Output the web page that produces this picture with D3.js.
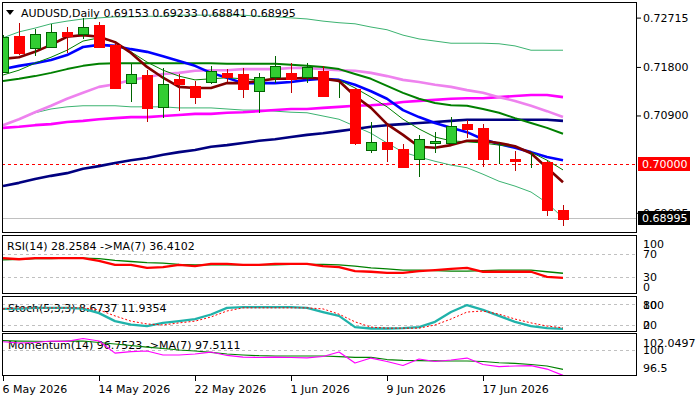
<!DOCTYPE html>
<html>
<head>
<meta charset="utf-8">
<script src="https://cdn.jsdelivr.net/npm/d3@7"></script>
<style>
  body { margin: 0; background: #fff; }
</style>
</head>
<body>
<div id="chart"></div>
<script>
// Daily bars (6 May - 24 Jun 2026)
const dates = [
  "2026-05-06","2026-05-07","2026-05-08","2026-05-11","2026-05-12","2026-05-13","2026-05-14","2026-05-15",
  "2026-05-18","2026-05-19","2026-05-20","2026-05-21","2026-05-22","2026-05-25","2026-05-26","2026-05-27",
  "2026-05-28","2026-05-29","2026-06-01","2026-06-02","2026-06-03","2026-06-04","2026-06-05","2026-06-08",
  "2026-06-09","2026-06-10","2026-06-11","2026-06-12","2026-06-15","2026-06-16","2026-06-17","2026-06-18",
  "2026-06-19","2026-06-22","2026-06-23","2026-06-24"
];
const dateTicks = ["2026-05-06","2026-05-14","2026-05-22","2026-06-01","2026-06-09","2026-06-17"];
const dateTickLabels = ["6 May 2026","14 May 2026","22 May 2026","1 Jun 2026","9 Jun 2026","17 Jun 2026"];

const open  = [0.71706,0.72374,0.72152,0.72170,0.72448,0.72411,0.72578,0.72207,0.71502,0.71651,0.71057,0.71577,0.71447,0.71521,0.71688,0.71669,0.71354,0.71614,0.71688,0.71614,0.71725,0.71298,0.71391,0.70259,0.70408,0.70278,0.70093,0.70389,0.70389,0.70742,0.70668,0.70093,0.70093,0.70000,0.70037,0.69153];
const high  = [0.72393,0.72615,0.72504,0.72597,0.72541,0.72708,0.72634,0.72226,0.71855,0.71743,0.71781,0.71669,0.71539,0.71818,0.71762,0.71781,0.71688,0.72003,0.71873,0.71873,0.71818,0.71502,0.71410,0.70779,0.70723,0.70371,0.70538,0.70593,0.70872,0.70816,0.70742,0.70389,0.70241,0.70204,0.70055,0.69233];
const low   = [0.71688,0.72022,0.72003,0.72152,0.72059,0.72319,0.72152,0.71391,0.71150,0.70779,0.70853,0.70983,0.71113,0.71484,0.71521,0.71224,0.70946,0.71502,0.71317,0.71502,0.71243,0.71224,0.70352,0.70204,0.70037,0.69926,0.69759,0.70204,0.70389,0.70482,0.69944,0.70000,0.69870,0.69926,0.69035,0.68841];
const close = [0.72356,0.72059,0.72411,0.72448,0.72374,0.72541,0.72170,0.71410,0.71669,0.71039,0.71484,0.71484,0.71243,0.71725,0.71614,0.71391,0.71614,0.71818,0.71577,0.71799,0.71261,0.71298,0.70389,0.70408,0.70278,0.69944,0.70464,0.70426,0.70705,0.70649,0.70093,0.70093,0.70055,0.70000,0.69146,0.68995];

// moving averages / bands on the price chart
const maMaroon  = [0.7195,0.7198,0.7208,0.7221,0.7236,0.7239,0.7236,0.7226,0.7206,0.7180,0.7160,0.7143,0.7141,0.7141,0.7150,0.7150,0.7154,0.7158,0.7158,0.7160,0.7158,0.7154,0.7126,0.7104,0.7074,0.7054,0.7032,0.7030,0.7035,0.7043,0.7043,0.7039,0.7033,0.7020,0.6993,0.6966];
const maThin    = [0.7165,0.7174,0.7187,0.7198,0.7211,0.7228,0.7234,0.7226,0.7208,0.7189,0.7174,0.7163,0.7156,0.7158,0.7160,0.7158,0.7156,0.7158,0.7160,0.7160,0.7158,0.7156,0.7141,0.7124,0.7106,0.7083,0.7065,0.7050,0.7043,0.7041,0.7039,0.7035,0.7032,0.7022,0.7007,0.6989];
const maBlue    = [0.7176,0.7182,0.7187,0.7193,0.7202,0.7217,0.7221,0.7219,0.7213,0.7208,0.7200,0.7191,0.7182,0.7169,0.7160,0.7150,0.7150,0.7150,0.7152,0.7156,0.7158,0.7156,0.7147,0.7135,0.7121,0.7100,0.7087,0.7076,0.7067,0.7059,0.7046,0.7037,0.7030,0.7022,0.7013,0.7007];
const maGreen   = [0.7154,0.7158,0.7163,0.7169,0.7176,0.7182,0.7186,0.7187,0.7187,0.7187,0.7187,0.7187,0.7187,0.7187,0.7186,0.7186,0.7186,0.7186,0.7184,0.7182,0.7180,0.7176,0.7167,0.7158,0.7145,0.7132,0.7121,0.7113,0.7109,0.7108,0.7102,0.7095,0.7085,0.7076,0.7067,0.7056];
const maViolet  = [0.7072,0.7083,0.7096,0.7108,0.7121,0.7132,0.7143,0.7148,0.7156,0.7161,0.7167,0.7169,0.7173,0.7174,0.7174,0.7176,0.7176,0.7176,0.7178,0.7178,0.7176,0.7174,0.7173,0.7169,0.7163,0.7156,0.7152,0.7147,0.7143,0.7137,0.7132,0.7124,0.7117,0.7108,0.7098,0.7087];
const maMagenta = [0.7067,0.7069,0.7072,0.7074,0.7078,0.7080,0.7083,0.7085,0.7087,0.7087,0.7089,0.7091,0.7093,0.7093,0.7095,0.7096,0.7098,0.7100,0.7102,0.7102,0.7104,0.7106,0.7108,0.7109,0.7111,0.7115,0.7117,0.7119,0.7121,0.7122,0.7122,0.7124,0.7126,0.7128,0.7128,0.7124];
const maNavy    = [0.6959,0.6965,0.6972,0.6978,0.6983,0.6991,0.6996,0.7002,0.7007,0.7011,0.7017,0.7022,0.7026,0.7032,0.7035,0.7039,0.7043,0.7046,0.7050,0.7054,0.7057,0.7061,0.7065,0.7069,0.7072,0.7074,0.7076,0.7078,0.7080,0.7082,0.7082,0.7082,0.7082,0.7082,0.7082,0.7080];
const bandUpper = [0.7234,0.7245,0.7252,0.7260,0.7265,0.7269,0.7271,0.7273,0.7273,0.7274,0.7274,0.7276,0.7276,0.7276,0.7276,0.7276,0.7274,0.7273,0.7271,0.7269,0.7265,0.7262,0.7260,0.7254,0.7249,0.7239,0.7232,0.7228,0.7224,0.7224,0.7224,0.7223,0.7219,0.7211,0.7211,0.7211];
const bandLower = [0.7072,0.7083,0.7095,0.7102,0.7106,0.7108,0.7108,0.7108,0.7106,0.7106,0.7106,0.7104,0.7104,0.7104,0.7102,0.7100,0.7100,0.7098,0.7096,0.7095,0.7089,0.7083,0.7070,0.7057,0.7039,0.7022,0.7013,0.7005,0.6998,0.6993,0.6981,0.6968,0.6959,0.6948,0.6928,0.6900];

const priceTicks = [0.72715, 0.71800, 0.70900, 0.69095];
const levelPrice = 0.70000;

// indicators
const rsi        = [63,61,63,63,63,63,58,51,51,46,47,51,49,53,53,51,51,53,53,53,49,47,40,39,37,37,40,42,44,46,39,39,39,39,30,28.2584];
const rsiMa      = [60,61,62,62,63,63,62,59,57,55,54,52,51,51,51,51,51,51,52,52,52,51,49,46,44,42,42,41,40,40,41,42,42,42,39,36.4102];
const stochMain  = [66,67,69,69,69,67,54,31,21,17,26,31,37,50,69,71,71,71,71,69,57,46,14,10,10,11,14,29,57,77,63,46,29,17,11,8.6737];
const stochSig   = [66,69,69,69,69,69,63,46,31,23,20,26,31,43,60,69,69,69,69,69,66,51,29,14,11,11,11,20,37,57,60,51,37,26,17,11.9354];
const momentum   = [101.06,100.9,100.96,101.15,101.1,101.47,101.15,99.6,99.8,99.87,99.36,99.36,99.49,99.74,99.3,99.1,99.04,99.1,99.04,99.0,99.17,99.74,98.33,98.97,98.53,98.01,98.85,98.53,98.72,98.97,98.14,97.88,97.95,98.01,97.56,96.7523];
const momentumMa = [101.19,101.15,101.12,101.09,101.15,101.15,100.96,100.77,100.58,100.38,100.19,100.0,99.87,99.7,99.49,99.36,99.27,99.23,99.23,99.23,99.23,99.14,99.06,99.06,98.78,98.68,98.63,98.62,98.59,98.59,98.53,98.37,98.29,98.14,97.95,97.5111];

const W = 700, H = 400;
const left = 2, right = 637;
const font = "'DejaVu Sans', Verdana, sans-serif";

const svg = d3.select("#chart").append("svg")
  .attr("width", W).attr("height", H)
  .style("font-family", font).style("font-size", "11px");

// Panels: [top, bottom]
const panels = {
  main: [3, 233], rsi: [236, 294], stoch: [297, 332], mom: [334, 376]
};

const x = d3.scalePoint().domain(dates).range([3, 563]);
const y = d3.scaleLinear().domain([0.68720, 0.72986]).range([233, 3]);
const yRsi = d3.scaleLinear().domain([0, 100]).range([294, 237]);
const yStoch = d3.scaleLinear().domain([0, 100]).range([332, 297]);
const yMom = d3.scaleLinear().domain([96.67, 102.05]).range([376, 334]);

// clip paths per panel
const defs = svg.append("defs");
Object.entries(panels).forEach(([k, [t, b]]) => {
  defs.append("clipPath").attr("id", "clip-" + k)
    .append("rect").attr("x", left + 1).attr("y", t).attr("width", right - left - 1).attr("height", b - t);
});

function drawLine(g, values, yScale, color, width, dash) {
  const line = d3.line().x((d, i) => x(dates[i])).y(d => yScale(d));
  g.append("path").datum(values)
    .attr("d", line).attr("fill", "none")
    .attr("stroke", color).attr("stroke-width", width)
    .attr("stroke-dasharray", dash || null)
    .attr("stroke-linejoin", "round");
}

// ---- main price panel ----
const gMain = svg.append("g").attr("clip-path", "url(#clip-main)");

gMain.append("line")
  .attr("x1", left).attr("x2", right)
  .attr("y1", Math.round(y(levelPrice)) + 0.5).attr("y2", Math.round(y(levelPrice)) + 0.5)
  .attr("stroke", "#ff0000").attr("stroke-dasharray", "3,3");
gMain.append("line")
  .attr("x1", left).attr("x2", right)
  .attr("y1", Math.round(y(close[close.length - 1])) + 0.5).attr("y2", Math.round(y(close[close.length - 1])) + 0.5)
  .attr("stroke", "#c0c0c0");

drawLine(gMain, bandUpper, y, "#3cb371", 1);
drawLine(gMain, bandLower, y, "#3cb371", 1);
drawLine(gMain, maNavy, y, "#000080", 2.6);
drawLine(gMain, maMagenta, y, "#ff00ff", 2.6);
drawLine(gMain, maViolet, y, "#ee82ee", 2.6);
drawLine(gMain, maGreen, y, "#008000", 2);
drawLine(gMain, maBlue, y, "#0000ff", 2.6);
drawLine(gMain, maThin, y, "#008000", 1);
drawLine(gMain, maMaroon, y, "#800000", 2.6);

// candles
const bars = dates.map((d, i) => ({ d, o: open[i], h: high[i], l: low[i], c: close[i] }));
const candle = gMain.selectAll("g.candle").data(bars).join("g").attr("class", "candle")
  .attr("shape-rendering", "crispEdges");
candle.append("line")
  .attr("x1", d => Math.round(x(d.d)) + 0.5).attr("x2", d => Math.round(x(d.d)) + 0.5)
  .attr("y1", d => y(d.h)).attr("y2", d => y(d.l))
  .attr("stroke", d => d.c >= d.o ? "#006400" : "#c00000");
candle.append("rect")
  .attr("x", d => Math.round(x(d.d)) - 4.5)
  .attr("width", 10)
  .attr("y", d => Math.round(y(Math.max(d.o, d.c))) + 0.5)
  .attr("height", d => Math.max(0, Math.round(Math.abs(y(d.o) - y(d.c)))))
  .attr("fill", d => d.c >= d.o ? "#32cd32" : "#ff0000")
  .attr("stroke", d => d.c >= d.o ? "#006400" : "#ff0000");

// title
svg.append("path").attr("d", "M6,10 L14,10 L10,15 Z").attr("fill", "#000");
const f5 = d3.format(".5f");
svg.append("text").attr("x", 21).attr("y", 17)
  .attr("fill", "#000")
  .text(`AUDUSD,Daily  ${f5(open[35])} ${f5(high[35])} ${f5(low[35])} ${f5(close[35])}`);

// price axis
const priceAxis = svg.append("g").attr("transform", `translate(${right},0)`)
  .call(d3.axisRight(y).tickValues(priceTicks).tickFormat(f5).tickSize(4).tickPadding(2));
priceAxis.select(".domain").remove();
priceAxis.selectAll("text").attr("font-family", font).attr("font-size", 11).attr("fill", "#000");
priceAxis.selectAll("line").attr("stroke", "#000");

function priceTag(v, bg) {
  const yy = Math.round(y(v));
  svg.append("rect").attr("x", 638).attr("y", yy - 7).attr("width", 52).attr("height", 14).attr("fill", bg);
  svg.append("text").attr("x", 642).attr("y", yy).attr("dy", "0.35em")
    .attr("fill", "#fff").text(f5(v));
}
priceTag(levelPrice, "#ff0000");
priceTag(close[35], "#000000");

// ---- RSI panel ----
const gRsi = svg.append("g");
[70, 30].forEach(v => gRsi.append("line").attr("x1", left).attr("x2", right)
  .attr("y1", Math.round(yRsi(v)) + 0.5).attr("y2", Math.round(yRsi(v)) + 0.5)
  .attr("stroke", "#c0c0c0").attr("stroke-dasharray", "3,3"));
gRsi.append("text").attr("x", 7).attr("y", 246).attr("dy", "0.35em")
  .text(`RSI(14) ${rsi[35].toFixed(4)}  ->MA(7) ${rsiMa[35].toFixed(4)}`);
const gRsiLines = svg.append("g").attr("clip-path", "url(#clip-rsi)");
drawLine(gRsiLines, rsiMa, yRsi, "#008000", 1.3);
drawLine(gRsiLines, rsi, yRsi, "#ff0000", 2.3);

// ---- Stochastic panel ----
const gSto = svg.append("g");
[80, 20].forEach(v => gSto.append("line").attr("x1", left).attr("x2", right)
  .attr("y1", Math.round(yStoch(v)) + 0.5).attr("y2", Math.round(yStoch(v)) + 0.5)
  .attr("stroke", "#c0c0c0").attr("stroke-dasharray", "3,3"));
gSto.append("text").attr("x", 8).attr("y", 308).attr("dy", "0.35em")
  .text(`Stoch(5,3,3) ${stochMain[35].toFixed(4)} ${stochSig[35].toFixed(4)}`);
const gStoLines = svg.append("g").attr("clip-path", "url(#clip-stoch)");
drawLine(gStoLines, stochMain, yStoch, "#20b2aa", 2.3);
drawLine(gStoLines, stochSig, yStoch, "#ff0000", 1, "2,2");

// ---- Momentum panel ----
const gMom = svg.append("g");
gMom.append("line").attr("x1", left).attr("x2", right)
  .attr("y1", Math.round(yMom(100)) + 0.5).attr("y2", Math.round(yMom(100)) + 0.5)
  .attr("stroke", "#c0c0c0").attr("stroke-dasharray", "3,3");
gMom.append("text").attr("x", 8).attr("y", 345).attr("dy", "0.35em")
  .text(`Momentum(14) ${momentum[35].toFixed(4)}  ->MA(7) ${momentumMa[35].toFixed(4)}`);
const gMomLines = svg.append("g").attr("clip-path", "url(#clip-mom)");
drawLine(gMomLines, momentumMa, yMom, "#008000", 1.2);
drawLine(gMomLines, momentum, yMom, "#ff00ff", 1.2);

// panel frames
Object.values(panels).forEach(([t, b]) => {
  svg.append("rect").attr("x", left + 0.5).attr("y", t - 0.5)
    .attr("width", right - left - 1).attr("height", b - t)
    .attr("fill", "none").attr("stroke", "#000").attr("shape-rendering", "crispEdges");
});

// right-hand level labels of the indicator panels
const sideLabels = [
  ["100", 244], ["70", 254], ["30", 277], ["0", 287],
  ["80", 305], ["100", 305], ["20", 325], ["0", 325],
  ["102.0497", 343], ["100", 350], ["96.5", 368]
];
svg.selectAll("text.side").data(sideLabels).join("text").attr("class", "side")
  .attr("x", 643).attr("y", d => d[1]).attr("dy", "0.35em").attr("fill", "#000")
  .text(d => d[0]);

// date axis
const dateAxis = svg.append("g").attr("transform", `translate(0,${panels.mom[1]})`)
  .call(d3.axisBottom(x).tickValues(dateTicks).tickFormat((d, i) => dateTickLabels[i]).tickSize(5).tickPadding(4));
dateAxis.select(".domain").remove();
dateAxis.selectAll("text").attr("font-family", font).attr("font-size", 11).attr("fill", "#000")
  .attr("text-anchor", "start").attr("dx", -1);
dateAxis.selectAll("line").attr("stroke", "#000");
</script>
</body>
</html>
